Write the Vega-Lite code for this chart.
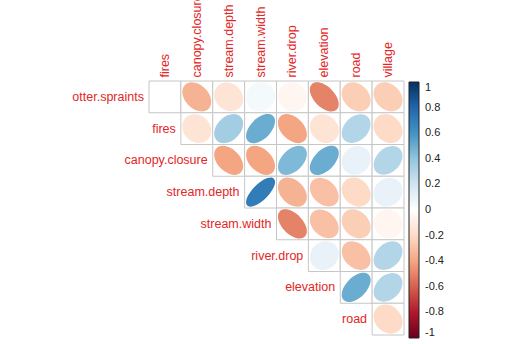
{
 "$schema": "https://vega.github.io/schema/vega-lite/v6.json",
 "width": 255,
 "height": 254,
 "autosize": {"type": "none"},
 "padding": {"left": 149, "top": 81, "right": 106, "bottom": 9},
 "background": "white",
 "config": {"view": {"stroke": null}, "font": "Liberation Sans"},
 "datasets": {
  "cells": [
   {"row": "otter.spraints", "col": "fires", "r": 0},
   {"row": "otter.spraints", "col": "canopy.closure", "r": -0.35},
   {"row": "otter.spraints", "col": "stream.depth", "r": -0.15},
   {"row": "otter.spraints", "col": "stream.width", "r": 0.05},
   {"row": "otter.spraints", "col": "river.drop", "r": -0.05},
   {"row": "otter.spraints", "col": "elevation", "r": -0.5},
   {"row": "otter.spraints", "col": "road", "r": -0.25},
   {"row": "otter.spraints", "col": "village", "r": -0.25},
   {"row": "fires", "col": "canopy.closure", "r": -0.15},
   {"row": "fires", "col": "stream.depth", "r": 0.35},
   {"row": "fires", "col": "stream.width", "r": 0.5},
   {"row": "fires", "col": "river.drop", "r": -0.4},
   {"row": "fires", "col": "elevation", "r": -0.15},
   {"row": "fires", "col": "road", "r": 0.3},
   {"row": "fires", "col": "village", "r": -0.2},
   {"row": "canopy.closure", "col": "stream.depth", "r": -0.4},
   {"row": "canopy.closure", "col": "stream.width", "r": -0.4},
   {"row": "canopy.closure", "col": "river.drop", "r": 0.45},
   {"row": "canopy.closure", "col": "elevation", "r": 0.5},
   {"row": "canopy.closure", "col": "road", "r": 0.1},
   {"row": "canopy.closure", "col": "village", "r": 0.3},
   {"row": "stream.depth", "col": "stream.width", "r": 0.7},
   {"row": "stream.depth", "col": "river.drop", "r": -0.35},
   {"row": "stream.depth", "col": "elevation", "r": -0.3},
   {"row": "stream.depth", "col": "road", "r": -0.2},
   {"row": "stream.depth", "col": "village", "r": 0.1},
   {"row": "stream.width", "col": "river.drop", "r": -0.5},
   {"row": "stream.width", "col": "elevation", "r": -0.3},
   {"row": "stream.width", "col": "road", "r": -0.25},
   {"row": "stream.width", "col": "village", "r": -0.05},
   {"row": "river.drop", "col": "elevation", "r": 0.1},
   {"row": "river.drop", "col": "road", "r": -0.3},
   {"row": "river.drop", "col": "village", "r": 0.3},
   {"row": "elevation", "col": "road", "r": 0.5},
   {"row": "elevation", "col": "village", "r": 0.3},
   {"row": "road", "col": "village", "r": -0.2}
  ],
  "labels": [
   {"label": "otter.spraints", "row": "otter.spraints", "col": "fires"},
   {"label": "fires", "row": "fires", "col": "canopy.closure"},
   {"label": "canopy.closure", "row": "canopy.closure", "col": "stream.depth"},
   {"label": "stream.depth", "row": "stream.depth", "col": "stream.width"},
   {"label": "stream.width", "row": "stream.width", "col": "river.drop"},
   {"label": "river.drop", "row": "river.drop", "col": "elevation"},
   {"label": "elevation", "row": "elevation", "col": "road"},
   {"label": "road", "row": "road", "col": "village"}
  ]
 },
 "layer": [
  {
   "data": {"name": "cells"},
   "mark": {"type": "rect", "fill": "white", "stroke": "#c6c6c6", "strokeWidth": 1},
   "encoding": {
    "x": {
     "field": "col", "type": "nominal",
     "scale": {"domain": ["fires", "canopy.closure", "stream.depth", "stream.width", "river.drop", "elevation", "road", "village"], "paddingInner": 0, "paddingOuter": 0},
     "axis": {"orient": "top", "title": null, "labelAngle": -90, "labelAlign": "left", "labelBaseline": "middle", "labelPadding": 4, "ticks": false, "domain": false, "labelFontSize": 12.5, "labelColor": "#e32626", "labelFont": "Liberation Sans", "labelOverlap": false}
    },
    "y": {
     "field": "row", "type": "nominal",
     "scale": {"domain": ["otter.spraints", "fires", "canopy.closure", "stream.depth", "stream.width", "river.drop", "elevation", "road"], "paddingInner": 0, "paddingOuter": 0},
     "axis": null
    }
   }
  },
  {
   "data": {"name": "cells"},
   "mark": {"type": "point", "filled": true, "size": 841, "opacity": 1, "strokeWidth": 0},
   "encoding": {
    "x": {"field": "col", "type": "nominal"},
    "y": {"field": "row", "type": "nominal"},
    "color": {
     "field": "r", "type": "quantitative",
     "scale": {"domain": [-1, -0.8, -0.6, -0.4, -0.2, 0, 0.2, 0.4, 0.6, 0.8, 1], "range": ["#67001F", "#B2182B", "#D6604D", "#F4A582", "#FDDBC7", "#FFFFFF", "#D1E5F0", "#92C5DE", "#4393C3", "#2166AC", "#053061"], "interpolate": "rgb"},
     "legend": {"orient": "none", "legendX": 260, "legendY": 1, "title": null, "direction": "vertical", "gradientLength": 256, "gradientThickness": 10, "gradientStrokeColor": "#222222", "gradientStrokeWidth": 1, "values": [1, 0.8, 0.6, 0.4, 0.2, 0, -0.2, -0.4, -0.6, -0.8, -1], "labelExpr": "datum.value < 0 ? '-' + format(-datum.value, '~g') : format(datum.value, '~g')", "labelAlign": "center", "labelBaseline": "middle", "labelOffset": 6, "labelFontSize": 11, "labelColor": "#222222", "labelFont": "Liberation Sans", "labelOverlap": false, "padding": 0, "offset": 0}
    },
    "shape": {
     "field": "r", "type": "ordinal", "legend": null,
     "scale": {
      "domain": [0, 0.05, 0.1, 0.3, 0.35, 0.45, 0.5, 0.7, -0.05, -0.15, -0.2, -0.25, -0.3, -0.35, -0.4, -0.5],
      "range": [
       "M 0.7071 -0.7071 A 1 1 0 0 0 -0.7071 0.7071 A 1 1 0 0 0 0.7071 -0.7071 Z",
       "M 0.7246 -0.7246 A 1.0247 0.9747 -45 0 0 -0.7246 0.7246 A 1.0247 0.9747 -45 0 0 0.7246 -0.7246 Z",
       "M 0.7416 -0.7416 A 1.0488 0.9487 -45 0 0 -0.7416 0.7416 A 1.0488 0.9487 -45 0 0 0.7416 -0.7416 Z",
       "M 0.8062 -0.8062 A 1.1402 0.8367 -45 0 0 -0.8062 0.8062 A 1.1402 0.8367 -45 0 0 0.8062 -0.8062 Z",
       "M 0.8216 -0.8216 A 1.1619 0.8062 -45 0 0 -0.8216 0.8216 A 1.1619 0.8062 -45 0 0 0.8216 -0.8216 Z",
       "M 0.8515 -0.8515 A 1.2042 0.7416 -45 0 0 -0.8515 0.8515 A 1.2042 0.7416 -45 0 0 0.8515 -0.8515 Z",
       "M 0.866 -0.866 A 1.2247 0.7071 -45 0 0 -0.866 0.866 A 1.2247 0.7071 -45 0 0 0.866 -0.866 Z",
       "M 0.922 -0.922 A 1.3038 0.5477 -45 0 0 -0.922 0.922 A 1.3038 0.5477 -45 0 0 0.922 -0.922 Z",
       "M 0.7246 0.7246 A 1.0247 0.9747 45 0 0 -0.7246 -0.7246 A 1.0247 0.9747 45 0 0 0.7246 0.7246 Z",
       "M 0.7583 0.7583 A 1.0724 0.922 45 0 0 -0.7583 -0.7583 A 1.0724 0.922 45 0 0 0.7583 0.7583 Z",
       "M 0.7746 0.7746 A 1.0954 0.8944 45 0 0 -0.7746 -0.7746 A 1.0954 0.8944 45 0 0 0.7746 0.7746 Z",
       "M 0.7906 0.7906 A 1.118 0.866 45 0 0 -0.7906 -0.7906 A 1.118 0.866 45 0 0 0.7906 0.7906 Z",
       "M 0.8062 0.8062 A 1.1402 0.8367 45 0 0 -0.8062 -0.8062 A 1.1402 0.8367 45 0 0 0.8062 0.8062 Z",
       "M 0.8216 0.8216 A 1.1619 0.8062 45 0 0 -0.8216 -0.8216 A 1.1619 0.8062 45 0 0 0.8216 0.8216 Z",
       "M 0.8367 0.8367 A 1.1832 0.7746 45 0 0 -0.8367 -0.8367 A 1.1832 0.7746 45 0 0 0.8367 0.8367 Z",
       "M 0.866 0.866 A 1.2247 0.7071 45 0 0 -0.866 -0.866 A 1.2247 0.7071 45 0 0 0.866 0.866 Z"
      ]
     }
    }
   }
  },
  {
   "data": {"name": "labels"},
   "mark": {"type": "text", "align": "right", "baseline": "middle", "dx": -21, "fontSize": 12.5, "color": "#e32626", "font": "Liberation Sans"},
   "encoding": {
    "x": {"field": "col", "type": "nominal"},
    "y": {"field": "row", "type": "nominal"},
    "text": {"field": "label"}
   }
  }
 ]
}
